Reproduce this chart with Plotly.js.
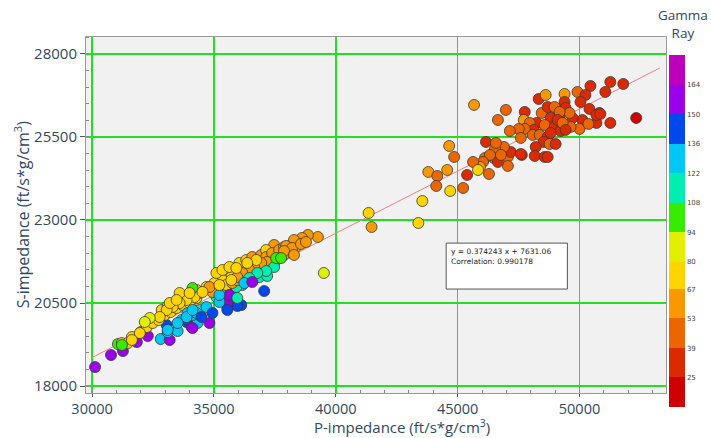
<!DOCTYPE html>
<html>
<head>
<meta charset="utf-8">
<script src="https://cdn.plot.ly/plotly-3.0.1.min.js"></script>
<style>html,body{margin:0;padding:0;background:#fff;}#chart{width:711px;height:438px;}</style>
</head>
<body>
<div id="chart"></div>
<script>
// P-impedance (ft/s*g/cm3)
const pImpedance = [
30122,30776,31265,31061,31224,31469,31837,31633,32000,32286,32245,32490,32816,33184,33102,33510,33061,32735,32980,33224,
33469,33714,34000,34286,34408,32857,33102,33388,33673,33878,34082,34327,34122,34408,33918,37061,36122,35959,35551,35551,
34816,34122,35102,35510,35755,36857,37184,36449,36163,35918,34694,34286,33878,33510,33102,34939,34490,34122,35224,
36041,36326,36571,36939,37184,37469,37143,36735,36367,36122,35714,35347,35020,34694,34286,34204,33878,33592,33306,33061,32776,
32367,32163,31959,31633,31224,34939,35510,35755,35959,34122,33592,33184,35102,35347,35633,
37143,37388,37673,37878,38163,38367,38204,37878,37551,37184,36939,36653,36449,36163,35959,36735,36367,35918,
37469,37143,36776,36449,36245,35551,35633,36571,37551,35959,35224,34816,35224,35714,34531,34000,33469,
39265,38857,38612,38286,37959,38204,38571,38776,37878,38286,37755,39510,
41347,41469,43388,43551,44694,43796,44163,44571,44122,45224,45388,44653,44857,
45673,46980,46653,47755,47714,48326,48612,49388,49918,50449,51265,51796,52327,50245,51061,50041,50408,50816,50694,51265,
50122,49714,50000,50367,49388,49429,49020,48775,48449,48694,49592,49184,48816,48245,47959,48571,48980,49224,49429,49633,
48122,47755,47510,47143,47592,48082,48367,48694,48531,48775,49020,48204,48163,48571,47633,47061,47061,47184,46898,46531,
46490,46653,46163,46571,46122,46327,46041,45918,45633,45837,46286,47592,46776,50694,50857,48980,49184,49102,49306,49429,
48816,48694
];
// S-impedance (ft/s*g/cm3)
const sImpedance = [
18572,18934,19054,19265,19295,19295,19325,19476,19626,19506,19777,19898,19416,19386,19626,19657,19837,19988,20138,20229,
20349,20440,20500,20651,20801,20289,20410,20500,19988,19928,19777,19898,20138,20289,20199,20861,20440,20410,20349,20500,
19898,19747,20681,20801,20741,21283,21313,21193,21042,20982,20379,20199,20078,19898,19687,20199,20078,20289,20530,
21705,21795,21885,21946,22036,22247,22096,21645,21494,21404,21283,21193,21102,20982,20892,20681,20590,20500,20379,20289,20078,
20048,19928,19596,19386,19235,20831,21042,21102,21193,20952,20801,20500,21404,21494,21584,
21885,22006,22096,22187,22247,22187,22006,21946,21795,21735,21705,21584,21494,21404,21283,21795,21705,21554,
21584,21464,21404,21253,21102,20289,20741,21132,21855,20651,20741,20982,21042,21193,20831,20801,20590,
22488,22548,22458,22398,22217,22157,22277,22337,22066,21946,21855,21404,
23211,22789,22910,23572,23873,24446,24325,24506,24024,23964,24355,25229,24897,
26464,26313,26012,26253,26012,26644,26765,26795,26855,27036,27156,27096,26072,26765,26855,26554,26343,26223,25922,25922,
26012,26072,25741,25892,26554,26373,26313,26253,26223,26403,26223,26102,26072,25922,25922,25862,25801,25681,25771,25801,
25711,25741,25741,25681,25470,25560,25560,25500,25349,25289,25289,25199,24928,24897,24958,24897,24626,25048,25199,25138,
24867,24747,25349,25319,24867,24958,24747,24596,24747,24506,24386,24988,24958,26163,26193,26403,26253,26012,25922,25711,
25620,24897
];
// Gamma Ray (API)
const gammaRay = [
157,157,157,101,74,74,157,74,74,157,74,74,129,157,129,129,143,74,74,74,
74,74,74,74,101,74,74,74,129,143,157,129,129,115,129,143,143,143,143,157,
157,157,115,115,115,115,115,115,129,115,129,129,129,129,129,143,143,129,129,
74,74,60,60,60,60,74,60,60,74,74,74,74,74,74,74,74,74,74,74,74,
87,87,74,74,101,60,74,60,60,101,74,74,74,74,74,
60,60,60,60,60,60,60,60,60,60,60,60,60,60,60,74,74,74,
115,115,115,115,129,143,157,157,101,115,129,60,74,74,74,74,74,
60,60,60,60,60,60,60,60,60,60,101,87,
74,60,74,74,74,58,46,58,46,46,32,58,46,
58,46,46,32,64,32,58,58,46,32,32,32,20,32,32,32,32,32,32,32,
32,32,46,46,32,32,46,46,46,32,46,32,32,32,46,46,32,32,32,46,
32,46,50,50,46,46,46,32,32,46,32,32,32,32,32,46,46,32,46,46,
46,32,32,46,46,46,46,58,46,74,46,32,46,32,32,46,46,32,46,32,
32,32
];
const fitSlope = 0.374243;
const fitIntercept = 7631.06;
const fitCorrelation = 0.990178;
const fitRangeX = [30000, 53300];
const grTicks = [25, 39, 53, 67, 80, 94, 108, 122, 136, 150, 164];

// discrete colour bins (style)
const binEdges = [11, 25, 39, 53, 67, 80, 94, 108, 122, 136, 150, 164, 178];
const binColors = ['#cc0000','#dc2a00','#ec6600','#f99800','#ffd400','#e2f000','#38ec00','#00eeb0','#00c8f5','#0048ec','#9a00ec','#bc00bc'];
const cmin = binEdges[0], cmax = binEdges[binEdges.length-1];
const colorscale = [];
binColors.forEach((c, i) => {
  colorscale.push([(binEdges[i]-cmin)/(cmax-cmin), c]);
  colorscale.push([(binEdges[i+1]-cmin)/(cmax-cmin), c]);
});

const txtColor = '#2e4862';
const font = 'Open Sans, Noto Sans, sans-serif';

const scatter = {
  type: 'scatter', mode: 'markers',
  x: pImpedance, y: sImpedance,
  marker: {
    size: 11, color: gammaRay, colorscale: colorscale, cmin: cmin, cmax: cmax,
    line: {color: '#3a3a3a', width: 0.8},
    colorbar: {
      x: 1.005, xanchor: 'left', y: 0.949, yanchor: 'top', len: 0.989, lenmode: 'fraction',
      thickness: 16, outlinewidth: 0, tickvals: grTicks, ticktext: grTicks.map(String),
      ticks: '', tickfont: {size: 7, color: '#444', family: 'DejaVu Sans'}, xpad: 0, ypad: 0
    }
  },
  hoverinfo: 'x+y'
};
const fitLine = {
  type: 'scatter', mode: 'lines',
  x: fitRangeX, y: fitRangeX.map(v => fitSlope * v + fitIntercept),
  line: {color: '#e88080', width: 1}, hoverinfo: 'skip'
};

const layout = {
  width: 711, height: 438,
  margin: {l: 86, r: 42, t: 37, b: 45},
  paper_bgcolor: '#ffffff', plot_bgcolor: '#f1f1f1',
  showlegend: false,
  font: {family: font, color: txtColor},
  xaxis: {
    range: [29750, 53550], tickmode: 'linear', tick0: 30000, dtick: 5000, tickformat: 'd',
    showgrid: true, gridcolor: '#22e022', gridwidth: 1.5, zeroline: false,
    showline: true, linecolor: '#9a9a9a', linewidth: 1, mirror: true,
    ticks: 'outside', ticklen: 3, tickcolor: '#555',
    minor: {dtick: 1000, ticks: 'inside', ticklen: 3, tickcolor: '#888', showgrid: false},
    tickfont: {size: 14.5, color: txtColor}
  },
  yaxis: {
    range: [17790, 28510], tickmode: 'linear', tick0: 18000, dtick: 2500, tickformat: 'd',
    showgrid: true, gridcolor: '#22e022', gridwidth: 1.5, zeroline: false,
    showline: true, linecolor: '#9a9a9a', linewidth: 1, mirror: true,
    ticks: 'outside', ticklen: 5, tickcolor: '#555',
    minor: {dtick: 500, ticks: 'inside', ticklen: 3, tickcolor: '#888', showgrid: false},
    tickfont: {size: 15, color: txtColor}
  },
  shapes: [
    {type: 'rect', xref: 'paper', yref: 'paper', x0: 0.621, x1: 0.830, y0: 0.292, y1: 0.421,
     fillcolor: '#ffffff', line: {color: '#555555', width: 1}, layer: 'above'}
  ],
  annotations: [
    {xref: 'paper', yref: 'paper', x: 0.626, y: 0.417, xanchor: 'left', yanchor: 'top', align: 'left',
     showarrow: false, font: {size: 7.5, color: '#222', family: 'DejaVu Sans'},
     text: 'y = ' + fitSlope + ' x + ' + fitIntercept.toFixed(2) + '<br>Correlation: ' + fitCorrelation},
    {xref: 'paper', yref: 'paper', x: 1.029, y: 1.036, xanchor: 'center', yanchor: 'middle',
     showarrow: false, font: {size: 13.5, color: txtColor}, text: 'Gamma<br>Ray'},
    {xref: 'paper', yref: 'paper', x: 0.5455, y: -0.0927, xanchor: 'center', yanchor: 'middle',
     showarrow: false, font: {size: 15, color: txtColor}, text: 'P-impedance (ft/s*g/cm<sup>3</sup>)'},
    {xref: 'paper', yref: 'paper', x: -0.11, y: 0.5, xanchor: 'center', yanchor: 'middle', textangle: -90,
     showarrow: false, font: {size: 16, color: txtColor}, text: 'S-impedance (ft/s*g/cm<sup>3</sup>)'}
  ]
};

Plotly.newPlot('chart', [fitLine, scatter], layout, {displayModeBar: false, staticPlot: true});
</script>
</body>
</html>
